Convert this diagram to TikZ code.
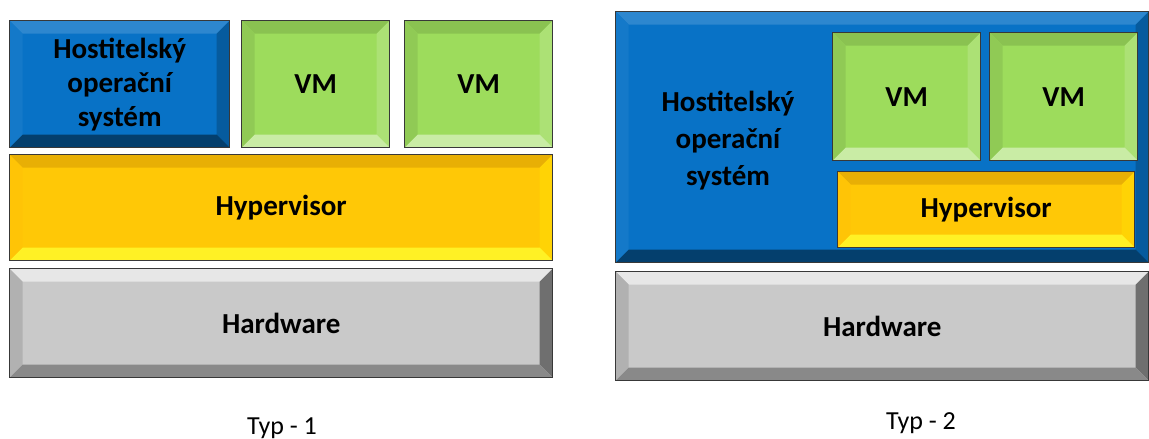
\documentclass[tikz,border=0pt]{standalone}
\usepackage{fontspec}
\setmainfont{Carlito}

\definecolor{osblue}{HTML}{0872C6}
\definecolor{vmgreen}{HTML}{9DDC5C}
\definecolor{hvyellow}{HTML}{FFC806}
\definecolor{hwgray}{HTML}{C9C9C9}

\begin{document}
\begin{tikzpicture}[x=1pt, y=-1pt,
	bevel/.style n args={4}{path picture={
		\path (path picture bounding box.north west) coordinate (nw)
			(path picture bounding box.north east) coordinate (ne)
			(path picture bounding box.south west) coordinate (sw)
			(path picture bounding box.south east) coordinate (se);
		\fill[#1] (nw) -- (ne) -- ([shift={(-13pt,-13pt)}]ne) -- ([shift={(13pt,-13pt)}]nw) -- cycle;
		\fill[#2] (nw) -- ([shift={(13pt,-13pt)}]nw) -- ([shift={(13pt,13pt)}]sw) -- (sw) -- cycle;
		\fill[#3] (ne) -- ([shift={(-13pt,-13pt)}]ne) -- ([shift={(-13pt,13pt)}]se) -- (se) -- cycle;
		\fill[#4] (sw) -- ([shift={(13pt,13pt)}]sw) -- ([shift={(-13pt,13pt)}]se) -- (se) -- cycle;
	}},
	layer/.style={draw=black!78, line width=1.4pt, anchor=north west, inner sep=0pt,
		align=center, font=\bfseries\fontsize{29}{34}\selectfont},
	os/.style={layer, fill=osblue, bevel={osblue!85!white}{osblue!95!white}{osblue!80!black}{osblue!55!black}},
	vm/.style={layer, fill=vmgreen, minimum width=148pt,
		bevel={vmgreen!88!black}{vmgreen!92!black}{vmgreen!85!white}{vmgreen!55!white}},
	hv/.style={layer, fill=hvyellow,
		bevel={hvyellow!90!black!90!orange}{hvyellow!94!orange}{hvyellow!80!yellow}{yellow!85!white!95!hvyellow}},
	hw/.style={layer, fill=hwgray, bevel={hwgray!45!white}{hwgray!88!black}{hwgray!55!black}{hwgray!68!black}},
	caption/.style={font=\fontsize{26}{30}\selectfont}
]
\useasboundingbox (0,0) rectangle (1149,439);

% type 1
\node[os, minimum width=220pt, minimum height=127pt](host1) at(9,20) {Hostitelský\\operační\\systém};
\foreach [count=\i] \x in {241,404}{
	\node[vm, minimum height=127pt](vm1\i) at(\x,20) {VM};
}
\node[hv, minimum width=543pt, minimum height=106pt](hyp1) at(9,154) {Hypervisor};
\node[hw, minimum width=543pt, minimum height=109pt](hw1) at(9,268) {Hardware};
\node[caption](typ1) at(282,428) {Typ - 1};

% type 2
\node[os, minimum width=533pt, minimum height=251pt](host2) at(615,11) {};
\node[font=\bfseries\fontsize{29}{37}\selectfont, align=center](host2text) at(728,141) {Hostitelský\\operační\\systém};
\foreach [count=\i] \x in {832,989}{
	\node[vm, minimum height=128pt](vm2\i) at(\x,32) {VM};
}
\node[hv, minimum width=297pt, minimum height=76pt](hyp2) at(837,171) {Hypervisor};
\node[hw, minimum width=533pt, minimum height=109pt](hw2) at(615,271) {Hardware};
\node[caption](typ2) at(921,423) {Typ - 2};

\end{tikzpicture}
\end{document}
